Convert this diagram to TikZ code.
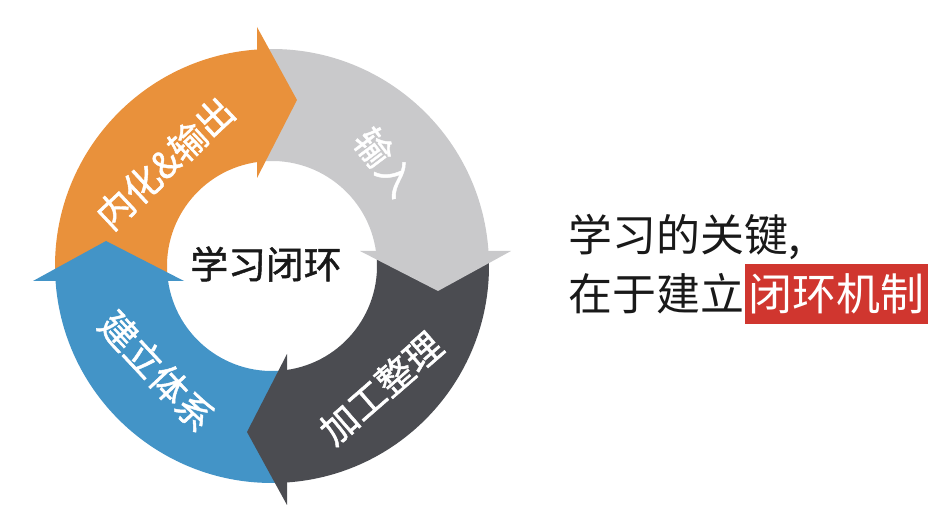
\documentclass[tikz,border=0pt]{standalone}
\usepackage{fontspec}
\newfontfamily\cjk{Noto Sans CJK SC}
\newfontfamily\cjkmid{Noto Sans CJK SC}[FakeBold=1.2]
\usetikzlibrary{positioning}
\definecolor{segorange}{HTML}{E9913B}
\definecolor{seglight}{HTML}{C9C9CB}
\definecolor{segdark}{HTML}{4B4C51}
\definecolor{segblue}{HTML}{4394C7}
\definecolor{hlred}{HTML}{D0362F}
\tikzset{
  seglabel/.style={text=white,inner sep=0pt,font=\cjkmid\fontsize{21}{24}\selectfont},
  sidetext/.style={anchor=west,inner sep=0pt,text=black!90,font=\cjk\fontsize{25}{28}\selectfont}
}

\begin{document}
\begin{tikzpicture}
\useasboundingbox (0,0) rectangle (18.82,10.6);
\coordinate (c) at (5.44,5.28);
% ring pieces, then the heads on top
\foreach \k/\col in {0/segorange,1/seglight,2/segdark,3/segblue}{
  \begin{scope}[shift={(c)},rotate=-90*\k]
    \fill[\col] (183.7:4.34) arc[start angle=183.7,end angle=93.7,radius=4.34]
      -- (97.66:2.1) arc[start angle=97.66,end angle=187.66,radius=2.1] -- cycle;
  \end{scope}
}
\foreach \k/\col in {0/segorange,1/seglight,2/segdark,3/segblue}{
  \begin{scope}[shift={(c)},rotate=-90*\k]
    \fill[\col] (-0.30,4.78) -- (0.5,3.32) -- (-0.30,1.76) -- cycle;
  \end{scope}
}
\node[seglabel,rotate=43] (neihua) at (3.30,7.34) {内化\&输出};
\node[seglabel,rotate=-53] (shuru) at (7.70,7.36) {输入};
\node[seglabel,rotate=41] (jiagong) at (7.62,2.84) {加工整理};
\node[seglabel,rotate=-47] (tixi) at (3.14,3.18) {建立体系};
\node[font=\cjkmid\fontsize{21.5}{24}\selectfont,text=black!90] (bihuan) at (5.32,5.32) {学习闭环};
\node[sidetext] (key) at (11.36,5.86) {学习的关键,};
\node[sidetext] (build) at (11.36,4.72) {在于建立};
\node[right=0pt of build,fill=hlred,text=white,inner xsep=2pt,minimum height=1.2cm,
  font=\cjk\fontsize{25}{28}\selectfont] (mech) {闭环机制};
\end{tikzpicture}
\end{document}
